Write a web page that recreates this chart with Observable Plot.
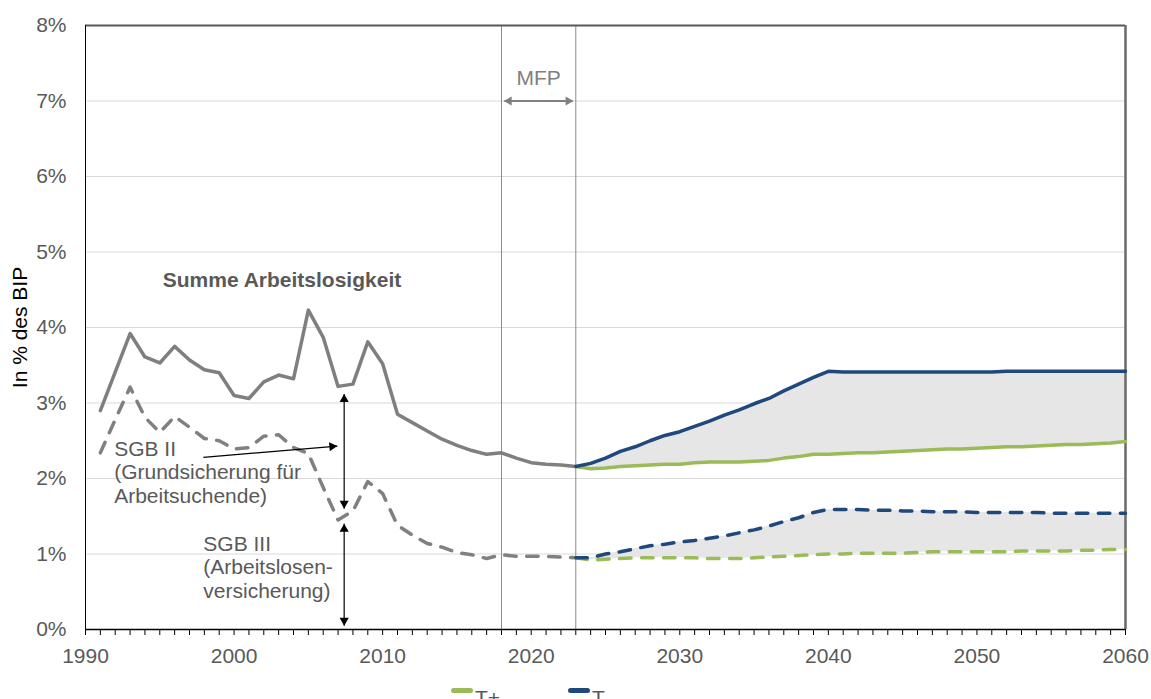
<!DOCTYPE html>
<html><head><meta charset="utf-8">
<script src="https://cdn.jsdelivr.net/npm/d3@7"></script>
<script src="https://cdn.jsdelivr.net/npm/@observablehq/plot@0.6"></script>
<style>
body{margin:0;background:#fff;font-family:"Liberation Sans",Arial,sans-serif;}
#wrap{position:relative;width:1151px;height:699px;overflow:hidden;background:#fff;}
.sw{position:absolute;width:22px;height:5px;border-radius:3px;}
.lt{position:absolute;font-size:21px;line-height:21px;color:#595959;}
</style></head><body><div id="wrap"></div>
<script>
// ---- data ----
const histYears = d3.range(1991, 2024);
const totalHist = [2.90, 3.41, 3.92, 3.61, 3.53, 3.75, 3.57, 3.44, 3.40, 3.10, 3.06, 3.28, 3.37, 3.32, 4.23, 3.87, 3.22, 3.25, 3.81, 3.52, 2.85, 2.74, 2.63, 2.52, 2.44, 2.37, 2.32, 2.34, 2.27, 2.21, 2.19, 2.18, 2.16];
const sgb3Hist  = [2.34, 2.78, 3.21, 2.81, 2.61, 2.82, 2.68, 2.53, 2.50, 2.39, 2.41, 2.56, 2.58, 2.41, 2.33, 1.88, 1.45, 1.57, 1.96, 1.80, 1.38, 1.25, 1.14, 1.09, 1.02, 0.99, 0.94, 0.99, 0.97, 0.97, 0.97, 0.96, 0.95];

const projYears = d3.range(2023, 2061);
const tMinusTotal = [2.16, 2.20, 2.27, 2.36, 2.42, 2.50, 2.57, 2.62, 2.69, 2.76, 2.84, 2.91, 2.99, 3.06, 3.16, 3.25, 3.34, 3.42, 3.41, 3.41, 3.41, 3.41, 3.41, 3.41, 3.41, 3.41, 3.41, 3.41, 3.41, 3.42, 3.42, 3.42, 3.42, 3.42, 3.42, 3.42, 3.42, 3.42];
const tPlusTotal  = [2.16, 2.13, 2.14, 2.16, 2.17, 2.18, 2.19, 2.19, 2.21, 2.22, 2.22, 2.22, 2.23, 2.24, 2.27, 2.29, 2.32, 2.32, 2.33, 2.34, 2.34, 2.35, 2.36, 2.37, 2.38, 2.39, 2.39, 2.40, 2.41, 2.42, 2.42, 2.43, 2.44, 2.45, 2.45, 2.46, 2.47, 2.49];
const tMinusSgb3  = [0.95, 0.95, 1.00, 1.03, 1.07, 1.11, 1.13, 1.16, 1.18, 1.21, 1.24, 1.28, 1.32, 1.37, 1.43, 1.48, 1.55, 1.59, 1.59, 1.59, 1.58, 1.58, 1.57, 1.57, 1.56, 1.56, 1.56, 1.55, 1.55, 1.55, 1.55, 1.55, 1.54, 1.54, 1.54, 1.54, 1.54, 1.54];
const tPlusSgb3   = [0.95, 0.92, 0.93, 0.94, 0.95, 0.95, 0.95, 0.95, 0.95, 0.94, 0.94, 0.94, 0.95, 0.96, 0.97, 0.98, 0.99, 1.00, 1.00, 1.01, 1.01, 1.01, 1.01, 1.02, 1.03, 1.03, 1.03, 1.03, 1.03, 1.03, 1.04, 1.04, 1.04, 1.04, 1.05, 1.05, 1.06, 1.06];

const yTicks = [0, 1, 2, 3, 4, 5, 6, 7, 8];
const gridValues = [1, 2, 3, 4, 5, 6, 7];
const yearTicks = d3.range(1990, 2061);
const decadeTicks = [1990, 2000, 2010, 2020, 2030, 2040, 2050, 2060];
const mfpBounds = [2018, 2023];

const seriesNames = ["T+", "T\u2013"];
const seriesColors = ["#9bbb59", "#1f497d"];

// annotations (data units)
const boldNote = [{x: 1995.2, y: 4.62, text: "Summe Arbeitslosigkeit"}];
const sgbNotes = [
  {x: 1991.93, y: 2.09, text: "SGB II\n(Grundsicherung für\nArbeitsuchende)"},
  {x: 1997.93, y: 0.83, text: "SGB III\n(Arbeitslosen-\nversicherung)"}
];
const mfpNote = [{x: 2020.5, y: 7.30, text: "MFP"}];
const mfpShaft = [{x1: 2018.2, y1: 7.0, x2: 2022.8, y2: 7.0}];
const blackShafts = [
  {x1: 2007.41, y1: 3.12, x2: 2007.41, y2: 1.60},
  {x1: 2007.41, y1: 1.40, x2: 2007.41, y2: 0.05},
  {x1: 1997.93, y1: 2.28, x2: 2006.95, y2: 2.43}
];
const headsUp = [{x: 2007.41, y: 3.12}, {x: 2007.41, y: 1.40}];
const headsDown = [{x: 2007.41, y: 1.60}, {x: 2007.41, y: 0.05}];
const headPointer = [{x: 2006.95, y: 2.43}];
const mfpLeft = [{x: 2018.15, y: 7.0}];
const mfpRight = [{x: 2022.85, y: 7.0}];

// ---- build ----
const hist = histYears.map((year, i) => ({year, total: totalHist[i], sgb3: sgb3Hist[i]}));
const proj = projYears.map((year, i) => ({year, tmT: tMinusTotal[i], tpT: tPlusTotal[i], tmS: tMinusSgb3[i], tpS: tPlusSgb3[i]}));

const head = (data, rotate, dx, dy, fill) =>
  Plot.dot(data, {x: "x", y: "y", symbol: "triangle", r: 3.4, fill, stroke: "none", rotate, dx, dy});

const chart = Plot.plot({
  width: 1151, height: 680,
  marginLeft: 85, marginRight: 26, marginTop: 25, marginBottom: 51,
  style: {fontFamily: "'Liberation Sans', Arial, sans-serif", fontSize: "21px", background: "#fff", overflow: "visible"},
  x: {domain: [1990, 2060]},
  y: {domain: [0, 8]},
  marks: [
    Plot.ruleY(gridValues, {stroke: "#d9d9d9", strokeWidth: 1}),
    Plot.areaY(proj, {x: "year", y1: "tpT", y2: "tmT", fill: "#e6e6e6"}),
    Plot.areaY(proj, {x: "year", y1: "tpS", y2: "tmS", fill: "#e6e6e6"}),
    Plot.ruleX(mfpBounds, {stroke: "#8c8c8c", strokeWidth: 1}),
    Plot.ruleY([8], {stroke: "#595959", strokeWidth: 2}),
    Plot.ruleX([2060], {stroke: "#6a6a6a", strokeWidth: 2.5}),
    Plot.ruleX([1990], {stroke: "#000", strokeWidth: 1}),
    Plot.axisX({ticks: yearTicks, tickSize: 6, tickFormat: () => "", stroke: "#000", label: null}),
    Plot.axisX({ticks: decadeTicks, tickSize: 0, tickPadding: 19, tickFormat: "d", fill: "#595959", fontSize: 21, label: null}),
    Plot.axisY({ticks: yTicks, tickSize: 0, tickPadding: 19, tickFormat: d => d + "%", fill: "#595959", fontSize: 21, label: null}),
    Plot.ruleY([0], {stroke: "#000", strokeWidth: 1.5}),
    Plot.text(["In % des BIP"], {frameAnchor: "left", textAnchor: "middle", dx: -65, rotate: -90, fill: "#000", fontSize: 21}),
    // historical
    Plot.line(hist, {x: "year", y: "sgb3", stroke: "#808080", strokeWidth: 3.5, strokeDasharray: "11.5,10.5", strokeLinecap: "round", strokeLinejoin: "round"}),
    Plot.line(hist, {x: "year", y: "total", stroke: "#7f7f7f", strokeWidth: 3.5, strokeLinejoin: "round"}),
    // projections
    Plot.line(proj, {x: "year", y: "tpS", stroke: seriesColors[0], strokeWidth: 3.5, strokeDasharray: "11.5,10.5", strokeLinecap: "round", strokeLinejoin: "round"}),
    Plot.line(proj, {x: "year", y: "tmS", stroke: seriesColors[1], strokeWidth: 3.5, strokeDasharray: "11.5,10.5", strokeLinecap: "round", strokeLinejoin: "round"}),
    Plot.line(proj, {x: "year", y: "tpT", stroke: seriesColors[0], strokeWidth: 3.5, strokeLinejoin: "round"}),
    Plot.line(proj, {x: "year", y: "tmT", stroke: seriesColors[1], strokeWidth: 3.5, strokeLinejoin: "round"}),
    // annotations
    Plot.text(boldNote, {x: "x", y: "y", text: "text", textAnchor: "start", fontWeight: "bold", fill: "#595959", fontSize: 21}),
    Plot.text(sgbNotes, {x: "x", y: "y", text: "text", textAnchor: "start", lineHeight: 1.13, fill: "#595959", fontSize: 21}),
    Plot.text(mfpNote, {x: "x", y: "y", text: "text", fill: "#808080", fontSize: 21}),
    Plot.link(mfpShaft, {x1: "x1", y1: "y1", x2: "x2", y2: "y2", stroke: "#808080", strokeWidth: 2}),
    head(mfpLeft, -90, 5.3, 0, "#808080"),
    head(mfpRight, 90, -5.3, 0, "#808080"),
    Plot.link(blackShafts, {x1: "x1", y1: "y1", x2: "x2", y2: "y2", stroke: "#000", strokeWidth: 1.2}),
    head(headsUp, 0, 0, 5.3, "#000"),
    head(headsDown, 180, 0, -5.3, "#000"),
    head(headPointer, 85.3, -5.3, 0.44, "#000")
  ]
});

const wrap = document.getElementById("wrap");
wrap.appendChild(chart);

// legend below the svg
const legendPos = [451, 568];
seriesNames.forEach((name, i) => {
  const sw = document.createElement("div");
  sw.className = "sw";
  sw.style.left = legendPos[i] + "px";
  sw.style.top = "688px";
  sw.style.background = seriesColors[i];
  wrap.appendChild(sw);
  const t = document.createElement("div");
  t.className = "lt";
  t.style.left = (legendPos[i] + 24) + "px";
  t.style.top = "687px";
  t.textContent = name;
  wrap.appendChild(t);
});
</script>
</body></html>
